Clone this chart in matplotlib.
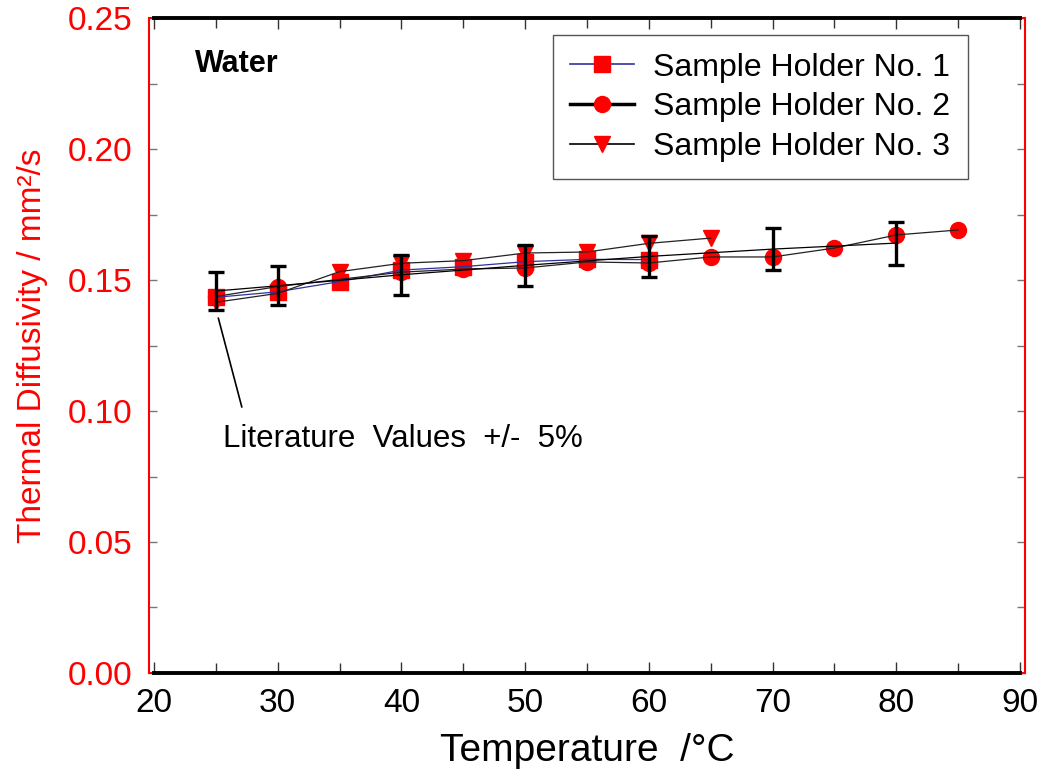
import numpy as np
import matplotlib.pyplot as plt
from matplotlib.lines import Line2D

plt.rcParams['font.family'] = ['Liberation Sans', 'DejaVu Sans']

# data
t1 = [25, 30, 35, 40, 45, 50, 55, 60]
d1 = [0.1434, 0.1455, 0.1494, 0.1538, 0.1551, 0.1570, 0.1579, 0.1578]

t2 = [25, 30, 40, 45, 50, 55, 60, 65, 70, 75, 80, 85]
d2 = [0.1437, 0.1475, 0.1530, 0.1542, 0.1546, 0.1569, 0.1565, 0.1588, 0.1588, 0.1622, 0.1672, 0.1691]

t3 = [25, 30, 35, 40, 45, 50, 55, 60, 65]
d3 = [0.1415, 0.1449, 0.1532, 0.1564, 0.1574, 0.1603, 0.1607, 0.1640, 0.1660]

t_lit = [25, 30, 40, 50, 60, 70, 80]
d_lit = [0.1458, 0.1478, 0.1520, 0.1556, 0.1590, 0.1618, 0.1641]
lit_err = 0.05

labels = ['Sample Holder No. 1', 'Sample Holder No. 2', 'Sample Holder No. 3']

fig = plt.figure(figsize=(10.4, 7.74), dpi=100)
ax = fig.add_axes([0.1433, 0.1305, 0.8423, 0.8462])

red = '#ff0000'
ms = 11.5

# markers under the lines
ax.plot(t1, d1, ls='none', marker='s', ms=ms, color=red, mec=red, zorder=2)
ax.plot(t2, d2, ls='none', marker='o', ms=ms, color=red, mec=red, zorder=2)
ax.plot(t3, d3, ls='none', marker='v', ms=ms, color=red, mec=red, zorder=2)

ax.plot(t1, d1, color='#3030a0', lw=0.9, zorder=3)
ax.plot(t2, d2, color='#222222', lw=0.9, zorder=3)
ax.plot(t3, d3, color='#222222', lw=0.9, zorder=3)
ax.plot(t_lit, d_lit, color='black', lw=0.9, zorder=3)

lit = np.array(d_lit)
ax.errorbar(t_lit, lit, yerr=lit * lit_err, fmt='none', ecolor='black',
            elinewidth=2.4, capsize=6, capthick=2.4, zorder=4)

ax.set_xlim(19.6, 90.4)
ax.set_ylim(0, 0.25)
ax.set_xticks(np.arange(20, 91, 10))
ax.set_xticks(np.arange(20, 91, 5), minor=True)
ax.set_yticks(np.arange(0, 0.26, 0.05))
ax.set_yticks(np.arange(0, 0.26, 0.025), minor=True)
ax.set_yticklabels(['%.2f' % v for v in np.arange(0, 0.26, 0.05)])

ax.tick_params(axis='x', which='both', direction='in', top=True, colors='#333333',
               labelcolor='black', labelsize=24, pad=11)
ax.tick_params(axis='x', which='major', length=8, width=1)
ax.tick_params(axis='x', which='minor', length=7, width=1)
ax.tick_params(axis='y', which='both', direction='in', right=True, colors='#777777',
               labelcolor=red, labelsize=24, pad=12)
ax.tick_params(axis='y', which='major', length=6, width=1)
ax.tick_params(axis='y', which='minor', length=6, width=1)

for s in ax.spines.values():
    s.set_color(red)
    s.set_linewidth(1.5)

# black x-axis lines from 20 to 90
ax.plot([20, 90], [0, 0], color='black', lw=2.8, clip_on=False, zorder=5)
ax.plot([20, 90], [0.25, 0.25], color='black', lw=2.8, clip_on=False, zorder=5)

ax.set_xlabel('Temperature  /°C', fontsize=28, labelpad=10)
ax.set_ylabel('Thermal Diffusivity / mm²/s', fontsize=24, color=red, labelpad=14)

ax.text(23.3, 0.2325, 'Water', fontsize=22, fontweight='bold', va='center', ha='left')

ax.annotate('', xy=(25.2, 0.1355), xytext=(27.1, 0.1015),
            arrowprops=dict(arrowstyle='-', color='black', lw=1.2, shrinkA=0, shrinkB=0))
ax.text(25.6, 0.0895, 'Literature  Values  +/-  5%', fontsize=22.5, va='center', ha='left')

handles = [
    Line2D([], [], color='#3030a0', lw=1.2, marker='s', ms=ms, mfc=red, mec=red),
    Line2D([], [], color='black', lw=2.5, marker='o', ms=ms, mfc=red, mec=red),
    Line2D([], [], color='black', lw=1.2, marker='v', ms=ms, mfc=red, mec=red),
]
leg = ax.legend(handles, labels, loc='upper right', bbox_to_anchor=(0.935, 0.974),
                borderaxespad=0, fontsize=23, frameon=True, fancybox=False,
                framealpha=1, edgecolor='#555555', handlelength=2.0,
                handletextpad=0.6, labelspacing=0.3, borderpad=0.55)
leg.get_frame().set_linewidth(1.0)

fig.savefig('out.png', dpi=100)
